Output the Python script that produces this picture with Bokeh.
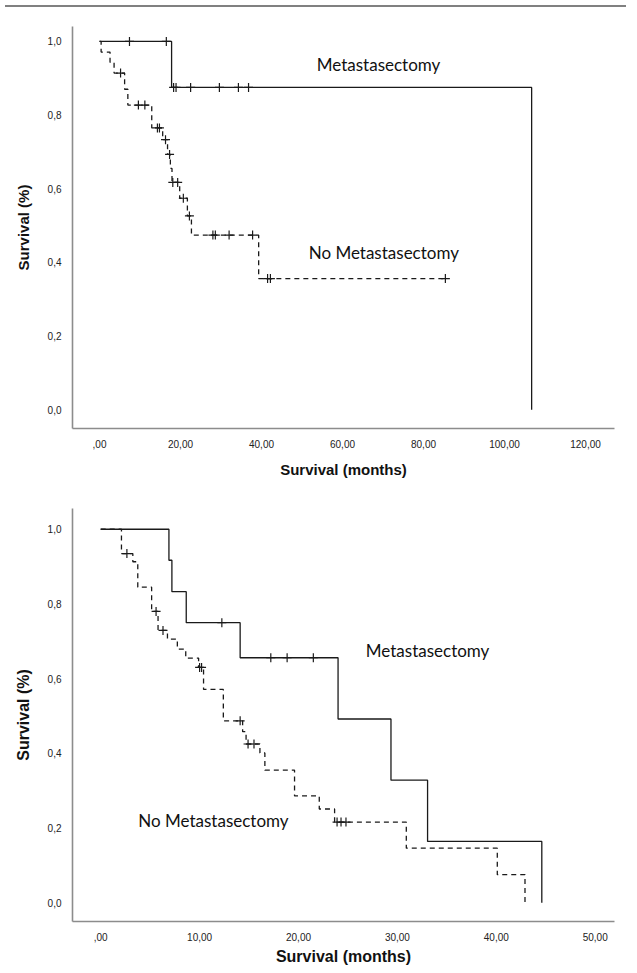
import numpy as np
from bokeh.plotting import figure
from bokeh.models import Range1d, FixedTicker, Div
from bokeh.layouts import column
from bokeh.core.properties import value
from bokeh.embed import file_html
from bokeh.resources import INLINE

# ---------------- Chart A (top) ----------------
a_met_times = [0.0, 17.8, 106.7]
a_met_surv = [1.0, 0.875, 0.0]
a_met_censor = [7.4, 16.5, 18.3, 18.9, 22.5, 29.6, 34.3, 36.8]
a_met_end = 106.7

a_nomet_times = [0.0, 0.4, 2.6, 3.6, 6.2, 7.0, 12.9, 15.6, 16.8, 17.5, 17.9, 19.8, 21.7, 22.7, 39.3]
a_nomet_surv = [1.0, 0.971, 0.943, 0.914, 0.870, 0.827, 0.765, 0.733, 0.693, 0.655, 0.617, 0.574, 0.526, 0.474, 0.356]
a_nomet_censor = [5.2, 9.6, 11.2, 14.3, 14.8, 16.3, 17.3, 18.1, 19.3, 20.7, 22.2,
                  28.0, 28.6, 32.0, 37.8, 41.5, 42.2, 85.4]
a_nomet_end = 85.4

a_xticks = [0, 20, 40, 60, 80, 100, 120]
a_xtick_labels = [",00", "20,00", "40,00", "60,00", "80,00", "100,00", "120,00"]

# ---------------- Chart B (bottom) ----------------
b_met_times = [0.0, 6.9, 7.2, 8.65, 14.1, 24.0, 29.35, 33.05, 44.6]
b_met_surv = [1.0, 0.917, 0.833, 0.75, 0.656, 0.492, 0.328, 0.164, 0.0]
b_met_censor = [12.25, 17.2, 18.85, 21.5]
b_met_end = 44.6

b_nomet_times = [0.0, 2.1, 3.25, 3.75, 5.15, 5.8, 6.75, 7.75, 8.6, 9.9, 10.4, 12.4,
                 14.35, 14.7, 16.1, 16.6, 19.6, 22.1, 23.65, 30.9, 40.1, 42.9]
b_nomet_surv = [1.0, 0.935, 0.913, 0.845, 0.780, 0.729, 0.706, 0.679, 0.655, 0.630, 0.571, 0.487,
                0.458, 0.425, 0.401, 0.355, 0.286, 0.251, 0.216, 0.146, 0.075, 0.0]
b_nomet_censor = [2.65, 5.6, 6.3, 10.0, 10.2, 14.1, 14.9, 15.5, 23.9, 24.3, 24.8]
b_nomet_end = 42.9

b_xticks = [0, 10, 20, 30, 40, 50]
b_xtick_labels = [",00", "10,00", "20,00", "30,00", "40,00", "50,00"]

yticks = [0.0, 0.2, 0.4, 0.6, 0.8, 1.0]
ytick_labels = ["0,0", "0,2", "0,4", "0,6", "0,8", "1,0"]

group_labels = ["Metastasectomy", "No Metastasectomy"]
x_title = "Survival (months)"
y_title = "Survival (%)"

# label anchor positions (data coords)
a_label_x = [68.9, 70.2]
a_label_y = [0.938, 0.426]
b_label_x = [33.05, 11.4]
b_label_y = [0.675, 0.22]


def km_path(times, surv, end):
    xs = list(times)
    ys = list(surv)
    if end > xs[-1]:
        xs.append(end)
        ys.append(ys[-1])
    return xs, ys


def censor_levels(times, surv, cens):
    idx = np.searchsorted(np.array(times), np.array(cens), side="right") - 1
    return [surv[i] for i in idx]


def make_fig(width, height, borders, xr, yr, xticks, xlabels, title_size):
    p = figure(width=width, height=height, output_backend="svg", toolbar_location=None,
               x_range=Range1d(*xr), y_range=Range1d(*yr),
               min_border_left=borders[0], min_border_right=borders[1],
               min_border_top=borders[2], min_border_bottom=borders[3])
    p.outline_line_color = None
    p.xgrid.visible = False
    p.ygrid.visible = False
    p.background_fill_color = "white"
    p.border_fill_color = "white"
    for ax in (p.xaxis[0], p.yaxis[0]):
        ax.axis_line_color = "#8c8c8c"
        ax.axis_line_width = 1.6
        ax.major_tick_line_color = None
        ax.minor_tick_line_color = None
        ax.major_label_text_font = "Liberation Sans"
        ax.major_label_text_font_size = "10px"
        ax.major_label_text_color = "#222222"
        ax.axis_label_text_font = "Liberation Sans"
        ax.axis_label_text_font_style = "bold"
        ax.axis_label_text_font_size = title_size
        ax.axis_label_text_color = "#111111"
    p.xaxis.ticker = FixedTicker(ticks=xticks)
    p.xaxis.major_label_overrides = {t: l for t, l in zip(xticks, xlabels)}
    p.yaxis.ticker = FixedTicker(ticks=yticks)
    p.yaxis.major_label_overrides = {t: l for t, l in zip(yticks, ytick_labels)}
    p.xaxis.axis_label = x_title
    p.yaxis.axis_label = y_title
    p.xaxis.major_label_standoff = 5
    p.yaxis.major_label_standoff = 5
    p.yaxis.axis_label_standoff = 13
    return p


def draw_group(p, times, surv, end, cens, dashed):
    xs, ys = km_path(times, surv, end)
    kw = dict(line_color="#1a1a1a", line_width=1.3)
    if dashed:
        kw["line_dash"] = "5 4"
    p.step(xs, ys, mode="after", **kw)
    cy = censor_levels(times, surv, cens)
    p.scatter(cens, cy, marker="cross", size=9, line_color="#1a1a1a", line_width=1.2)


# ---- top figure ----
p1 = make_fig(621, 468, (72, 7, 14, 49), (-6.667, 127.16), (-0.0512, 1.0404),
              a_xticks, a_xtick_labels, "15px")
p1.xaxis.axis_label_standoff = 10
draw_group(p1, a_met_times, a_met_surv, a_met_end, a_met_censor, False)
draw_group(p1, a_nomet_times, a_nomet_surv, a_nomet_end, a_nomet_censor, True)
p1.text(x=a_label_x, y=a_label_y, text=group_labels, text_font=value("Lato"),
        text_font_size=value("17px"), text_align="center", text_baseline="middle",
        text_color="#111111")

# ---- bottom figure ----
p2 = make_fig(621, 487, (71, 2, 28, 41), (-2.85, 51.95), (-0.0503, 1.0556),
              b_xticks, b_xtick_labels, "16px")
p2.xaxis.axis_label_standoff = 4
draw_group(p2, b_met_times, b_met_surv, b_met_end, b_met_censor, False)
draw_group(p2, b_nomet_times, b_nomet_surv, b_nomet_end, b_nomet_censor, True)
p2.text(x=b_label_x, y=b_label_y, text=group_labels, text_font=value("Lato"),
        text_font_size=value("17px"), text_align="center", text_baseline="middle",
        text_color="#111111")

rule = Div(text="", width=621, height=2, styles={"background-color": "#808080"})

layout = column(rule, p1, p2, spacing=0)
open("out.html", "w").write(file_html(layout, INLINE))
